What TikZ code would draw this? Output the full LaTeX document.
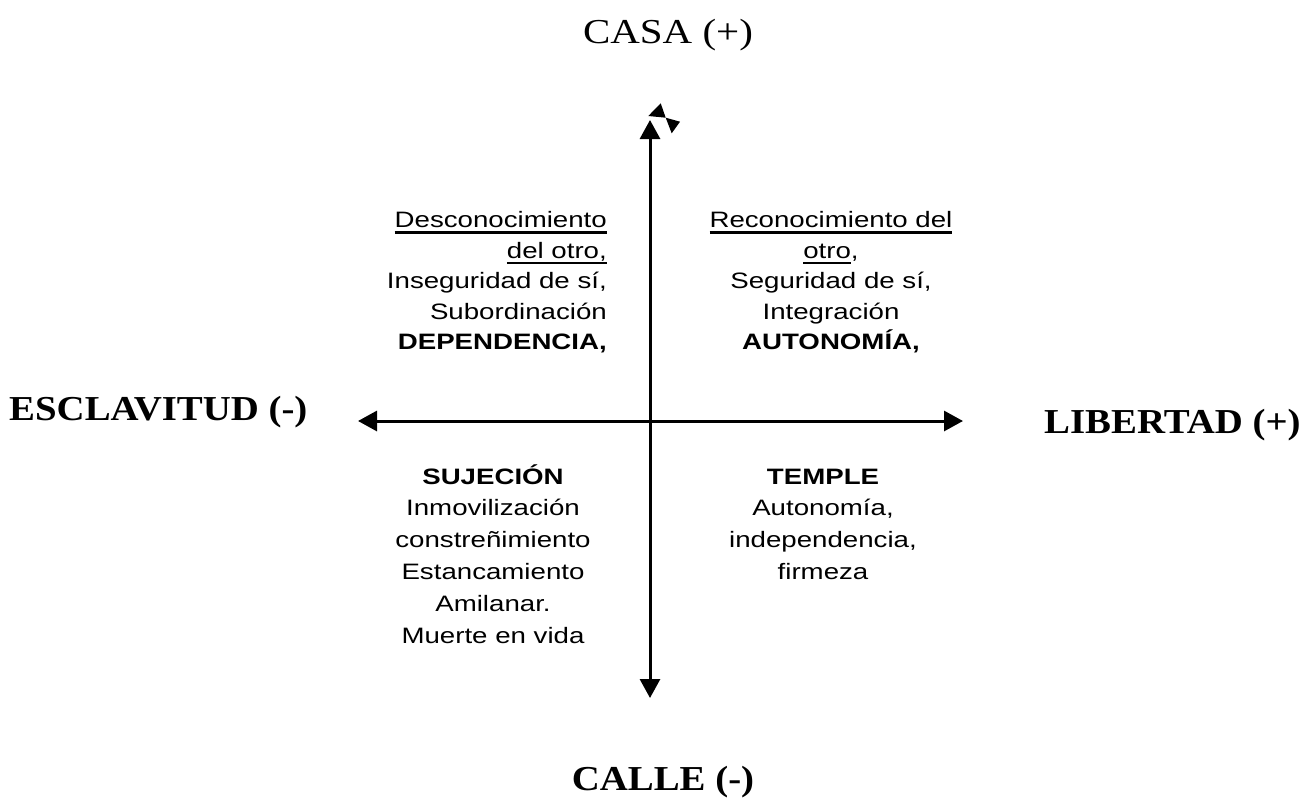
\documentclass[tikz,border=0pt]{standalone}
\usepackage{fontspec}
\usetikzlibrary{arrows.meta}
\setmainfont{Liberation Serif}
\newfontfamily\axbold{Liberation Serif}[FakeStretch=1.11]
\newfontfamily\axreg{Liberation Serif}[FakeStretch=1.17]
\newfontfamily\qsans{Liberation Sans}[FakeStretch=1.24]
\newcommand\ulin[1]{\setbox0\hbox{#1}\rlap{\rule[-6pt]{\wd0}{2.2pt}}\box0}
\begin{document}
\begin{tikzpicture}[x=1pt,y=-1pt,
  qtext/.style={font={\qsans\fontsize{22.3}{26}\selectfont}, inner sep=0pt},
  axlab/.style={font={\axbold\bfseries\fontsize{35}{40}\selectfont}, inner sep=0pt},
  axisline/.style={line width=3pt, {Triangle[length=19pt,width=20pt]}-{Triangle[length=19pt,width=20pt]}}]
\path[use as bounding box] (0,0) rectangle (1306,798);

% axes
\coordinate (top) at (650,120);
\coordinate (bottom) at (650,698);
\coordinate (left) at (358,421);
\coordinate (right) at (963,421);
\draw[axisline] (bottom) -- (top);
\draw[axisline] (left) -- (right);
% small mark beside the top arrow
\fill (660.7,103.3) -- (648.3,116) -- (665.7,117.7) -- cycle;
\fill (665.7,117.7) -- (680,121.7) -- (671.7,133.3) -- cycle;

% axis labels
\node[inner sep=0pt, font={\axreg\fontsize{35}{40}\selectfont}, anchor=base] (casa) at (668,43) {CASA (+)};
\node[axlab, anchor=base west] (escl) at (9,420) {ESCLAVITUD (-)};
\node[axlab, anchor=base west] (lib) at (1044,433) {LIBERTAD (+)};
\node[axlab, anchor=base] (calle) at (663,790) {CALLE (-)};

% upper left
\node[qtext, anchor=base east] (ul1) at (607,227.5) {\ulin{Desconocimiento}};
\node[qtext, anchor=base east] (ul2) at (607,258) {\ulin{del otro,}};
\node[qtext, anchor=base east] (ul3) at (607,288.5) {Inseguridad de sí,};
\node[qtext, anchor=base east] (ul4) at (607,319) {Subordinación};
\node[qtext, anchor=base east] (ul5) at (607,349.5) {\bfseries DEPENDENCIA,};

% upper right
\node[qtext, anchor=base] (ur1) at (831,227.5) {\ulin{Reconocimiento del}};
\node[qtext, anchor=base] (ur2) at (831,258) {\ulin{otro},};
\node[qtext, anchor=base] (ur3) at (831,288.5) {Seguridad de sí,};
\node[qtext, anchor=base] (ur4) at (831,319) {Integración};
\node[qtext, anchor=base] (ur5) at (831,349.5) {\bfseries AUTONOMÍA,};

% lower left
\node[qtext, anchor=base] (ll1) at (493,484) {\bfseries SUJECIÓN};
\node[qtext, anchor=base] (ll2) at (493,515.8) {Inmovilización};
\node[qtext, anchor=base] (ll3) at (493,547.6) {constreñimiento};
\node[qtext, anchor=base] (ll4) at (493,579.4) {Estancamiento};
\node[qtext, anchor=base] (ll5) at (493,611.2) {Amilanar.};
\node[qtext, anchor=base] (ll6) at (493,643) {Muerte en vida};

% lower right
\node[qtext, anchor=base] (lr1) at (823,484) {\bfseries TEMPLE};
\node[qtext, anchor=base] (lr2) at (823,515.8) {Autonomía,};
\node[qtext, anchor=base] (lr3) at (823,547.6) {independencia,};
\node[qtext, anchor=base] (lr4) at (823,579.4) {firmeza};
\end{tikzpicture}
\end{document}
